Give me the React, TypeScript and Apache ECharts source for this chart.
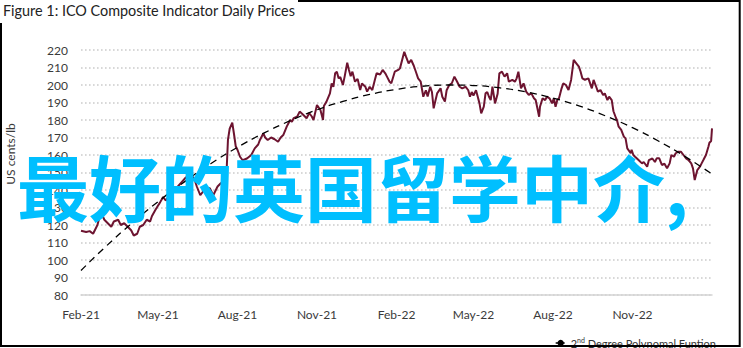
import React, { useEffect, useRef } from "react";
import * as echarts from "echarts";

// Days since 1 Feb 2021 and ICO composite indicator price (US cents/lb)
const priceDays = [
  0, 6, 10, 14, 19, 23, 27, 31, 35, 38, 43, 46, 50, 54, 58, 61, 65, 68, 72, 76, 80, 82, 86, 89, 91, 95, 98, 103, 106, 112,
  117, 121, 126, 128, 132, 134, 138, 141, 145, 149, 153, 156, 158, 162, 165, 168, 170, 172, 175, 177, 179, 181, 184, 187, 192, 197, 201, 205, 207, 211,
  213, 216, 220, 224, 228, 231, 234, 238, 242, 244, 246, 250, 253, 257, 261, 264, 267, 269, 273, 277, 280, 281, 284, 288, 290, 292, 294, 296, 298, 300,
  303, 305, 308, 310, 312, 314, 317, 320, 323, 325, 329, 331, 334, 337, 340, 342, 346, 349, 352, 354, 357, 359, 363, 367, 369, 374, 376, 379, 382, 385,
  388, 390, 393, 394, 396, 399, 401, 404, 406, 408, 410, 412, 416, 418, 421, 423, 426, 429, 432, 435, 438, 441, 445, 448, 450, 452, 454, 457, 459, 461,
  463, 466, 468, 470, 472, 474, 476, 479, 482, 484, 487, 490, 493, 495, 499, 502, 504, 506, 509, 512, 515, 518, 521, 524, 526, 528, 530, 531, 534, 537,
  539, 542, 545, 547, 549, 551, 553, 556, 558, 561, 564, 567, 570, 573, 576, 578, 580, 583, 587, 589, 591, 593, 596, 598, 601, 604, 606, 609, 611, 614,
  616, 619, 620, 622, 625, 628, 630, 632, 636, 637, 639, 641, 645, 649, 651, 655, 657, 661, 664, 666, 669, 672, 675, 678, 681, 683, 686, 688, 691, 694,
  697, 700, 703, 706, 708, 710, 713, 716, 718, 720, 723, 726, 727, 729, 730,
];
const priceValues = [
  116.7, 116, 116.5, 115, 120, 127.5, 123, 121, 119, 122, 123, 120, 121, 119, 117, 114, 115, 119, 120, 123, 122, 125, 128.6, 131, 132.5, 136, 134, 137, 139, 142,
  144.8, 147, 149, 148.6, 145, 142, 137, 139, 141, 141, 137, 140, 142, 144, 143, 146, 168.6, 175, 178.5, 172, 165, 163, 159, 157, 158, 160, 163.8, 166, 168.6, 172.4,
  170, 168.6, 170, 169, 167.6, 170, 171.4, 176.2, 180, 179, 181, 181.9, 184.8, 183, 181, 184, 182, 180, 188.6, 185.7, 180, 188, 190.5, 195.2, 200.9, 199, 206.7, 207.6, 203.8, 204.5,
  200, 204.8, 212.7, 208.6, 205, 207.6, 201.9, 203.5, 197.1, 200.9, 199, 196.2, 199, 197.1, 203, 206.7, 206, 208.6, 206.7, 204.8, 201.9, 201, 207.6, 208.6, 209.5, 219, 216.2, 212.4, 214.3, 211,
  206.7, 203.8, 201.9, 199, 193.3, 197, 193.5, 199, 196, 186.7, 191, 195.2, 198.1, 193.3, 190.5, 197, 200, 201, 204.8, 202, 199, 198.1, 199, 197, 193.3, 196, 194, 197, 193.3, 189.5,
  183.8, 187.6, 195.2, 196, 193.3, 191.4, 199, 189.5, 195, 206.7, 207.6, 204.8, 206.7, 201.9, 202.9, 201.9, 203.8, 207.6, 198.1, 200.9, 196.2, 194.3, 195.2, 192.4, 191.4, 186.7, 181.9, 187.6, 192.4, 191.4,
  193.3, 192.4, 189.5, 192.4, 187.6, 191.4, 192.4, 198.1, 200.9, 200, 197.1, 202.9, 214.3, 212.4, 210.5, 207.6, 203.8, 203, 203.8, 200.9, 198.1, 202.9, 199, 196.2, 197.1, 194.3, 195.2, 191.4, 193.3, 191.4,
  185, 181, 180, 176.2, 174.3, 170.5, 169.5, 163.8, 161, 163, 160, 159, 157.1, 155.2, 156, 153.3, 157.1, 158, 156, 158.1, 158.1, 154.3, 155, 152.4, 155.2, 160, 159, 161, 161.9, 161.9,
  160, 158.1, 157, 155.2, 152.4, 145.7, 151.4, 153.3, 155.2, 157.1, 160, 165, 167, 168, 175.2,
];

// 2nd degree polynomial trend, read at the start of each month
const trendDays = [0, 28, 59, 89, 120, 150, 181, 212, 242, 273, 303, 334, 365, 393, 424, 454, 485, 515, 546, 577, 607, 638, 668, 699, 730];
const trendValues = [94, 107.4, 121.1, 133.3, 144.8, 155, 164.4, 172.6, 179.6, 185.8, 190.6, 194.6, 197.5, 199.2, 200, 199.7, 198.3, 196, 192.5, 187.9, 182.3, 175.6, 168, 159.1, 149.1];

// x-axis tick positions (days since 1 Feb 2021) and labels
const xTickDays = [0, 89, 181, 273, 365, 454, 546, 638];
const xTickLabels = ["Feb-21", "May-21", "Aug-21", "Nov-21", "Feb-22", "May-22", "Aug-22", "Nov-22"];

const yMin = 80;
const yMax = 220;
const yStep = 10;

const titleText = "Figure 1: ICO Composite Indicator Daily Prices";
const yAxisTitle = "US cents/lb";
const priceName = "ICO Composite Indicator";
const trendName = "2nd Degree Polynomal Funtion";
const watermark = "最好的英国留学中介,";

const FONT = "Lato, 'Open Sans', sans-serif";

export default function App() {
  const ref = useRef<HTMLDivElement>(null);

  useEffect(() => {
    if (!ref.current) return;
    const chart = echarts.init(ref.current, undefined, { renderer: "svg" });
    const priceData = priceDays.map((d, i) => [d, priceValues[i]]);
    const trendData = trendDays.map((d, i) => [d, trendValues[i]]);

    chart.setOption({
      animation: false,
      backgroundColor: "#ffffff",
      textStyle: { fontFamily: FONT },
      grid: { left: 81, right: 31, top: 50, bottom: 53, containLabel: false },
      legend: {
        data: [trendName],
        right: 22,
        top: 331,
        itemWidth: 10,
        itemHeight: 8,
        itemGap: 4,
        lineStyle: { type: [3, 3], width: 1.3, color: "#000" },
        textStyle: {
          fontFamily: FONT,
          fontSize: 11,
          color: "#333",
          rich: {
            a: { fontSize: 11, color: "#333", fontFamily: FONT, lineHeight: 14 },
            sup: { fontSize: 7, color: "#333", fontFamily: FONT, verticalAlign: "top", lineHeight: 8 },
          },
        },
        formatter: () => "{a|2}{sup|nd}{a| Degree Polynomal Funtion}",
      },
      xAxis: {
        type: "value",
        min: 0,
        max: 730,
        splitLine: { show: false },
        axisLine: { show: true, lineStyle: { color: "#d4d4d4", width: 1.5 } },
        axisTick: { show: false, customValues: xTickDays },
        axisLabel: {
          customValues: xTickDays,
          color: "#3a3a3a",
          fontSize: 12,
          fontFamily: FONT,
          margin: 13,
          formatter: (v: number) => {
            const i = xTickDays.indexOf(v);
            return i >= 0 ? xTickLabels[i] : "";
          },
        },
      },
      yAxis: {
        type: "value",
        min: yMin,
        max: yMax,
        interval: yStep,
        axisLine: { show: false },
        axisTick: { show: false },
        axisLabel: { color: "#3a3a3a", fontSize: 12, fontFamily: FONT, margin: 13 },
        splitLine: {
          show: true,
          lineStyle: { color: "#cccccc", width: 1.6, type: [1.6, 2.4] },
        },
      },
      series: [
        {
          name: priceName,
          type: "line",
          data: priceData,
          showSymbol: false,
          symbol: "none",
          lineStyle: { color: "#6d1430", width: 2 },
          z: 3,
        },
        {
          name: trendName,
          type: "line",
          data: trendData,
          smooth: true,
          showSymbol: false,
          symbol: "none",
          lineStyle: { color: "#000000", width: 1.3, type: [7, 5] },
          itemStyle: { color: "#000000" },
          z: 4,
        },
      ],
      graphic: [
        {
          type: "rect",
          shape: { x: 1, y: 1, width: 738.7, height: 345 },
          style: { fill: "none", stroke: "#000", lineWidth: 2 },
          z: 10,
          silent: true,
        },
        {
          type: "rect",
          shape: { x: 0, y: 0, width: 298, height: 23 },
          style: { fill: "#fff" },
          z: 11,
          silent: true,
        },
        {
          type: "text",
          x: 3,
          y: 10,
          style: {
            text: titleText,
            fontSize: 14.4,
            fontFamily: FONT,
            fill: "#222",
            verticalAlign: "middle",
            align: "left",
          },
          z: 12,
        },
        {
          type: "text",
          x: 10,
          y: 154,
          rotation: Math.PI / 2,
          style: {
            text: yAxisTitle,
            fontSize: 12,
            fontFamily: FONT,
            fill: "#3a3a3a",
            align: "center",
            verticalAlign: "middle",
          },
          z: 12,
        },
        {
          type: "text",
          x: 17,
          y: 184,
          style: {
            text: watermark,
            fontSize: 72,
            fontWeight: "bold",
            fontFamily: "'Noto Sans CJK SC', sans-serif",
            fill: "#00BFFF",
            align: "left",
            verticalAlign: "middle",
          },
          z: 20,
        },
      ],
    });

    return () => chart.dispose();
  }, []);

  return (
    <div
      ref={ref}
      style={{ position: "fixed", left: 0, top: 0, width: 743, height: 348, background: "#fff" }}
    />
  );
}
